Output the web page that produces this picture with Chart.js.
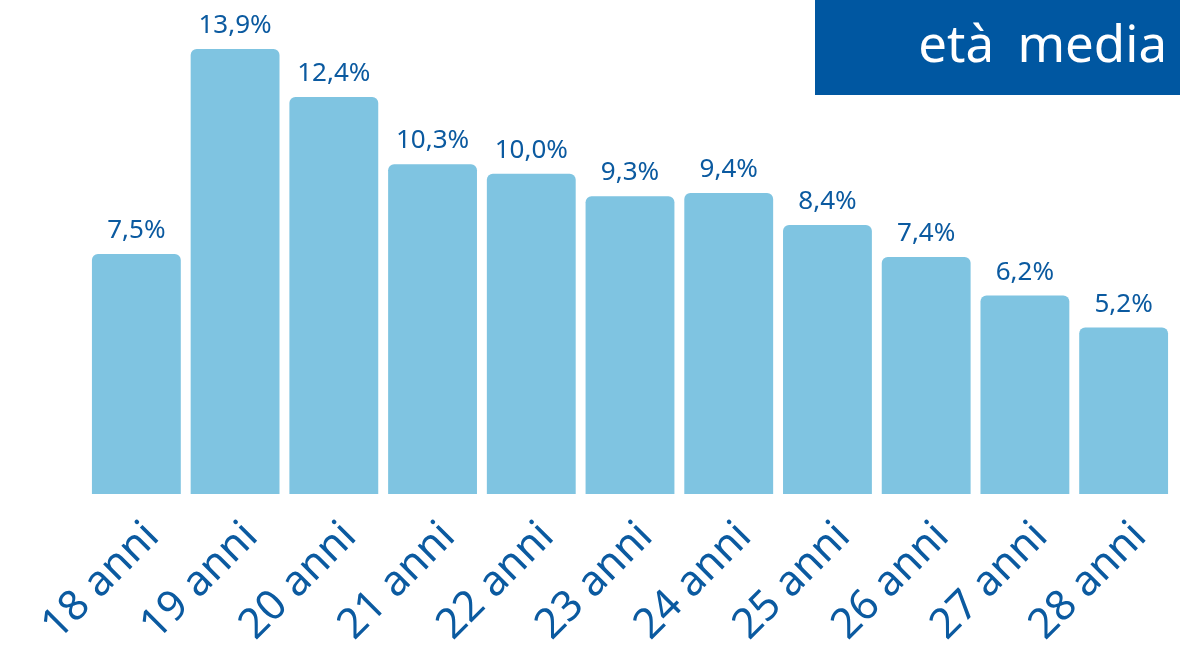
<!DOCTYPE html>
<html>
<head>
<meta charset="utf-8">
<script src="https://cdn.jsdelivr.net/npm/chart.js@4"></script>
<style>
  html, body { margin: 0; padding: 0; background: #fff; }
  #wrap { position: relative; width: 1180px; height: 651px; }
  #box {
    position: absolute; left: 815px; top: 0; width: 365px; height: 95px;
    background: #0057a1; color: #fff; font-family: "Noto Sans", sans-serif;
    font-size: 51px; text-align: right; box-sizing: border-box; padding-right: 13px;
    line-height: 84px; word-spacing: 10px;
  }
</style>
</head>
<body>
<div id="wrap">
  <canvas id="chart" width="1180" height="651"></canvas>
  <div id="box">età media</div>
</div>
<script>
const ages = ['18 anni', '19 anni', '20 anni', '21 anni', '22 anni', '23 anni', '24 anni', '25 anni', '26 anni', '27 anni', '28 anni'];
const shares = [7.5, 13.9, 12.4, 10.3, 10.0, 9.3, 9.4, 8.4, 7.4, 6.2, 5.2];

const blue = '#0b5aa0';

// etichette sopra le barre
const valueLabels = {
  id: 'valueLabels',
  afterDatasetsDraw(chart) {
    const ctx = chart.ctx;
    const meta = chart.getDatasetMeta(0);
    ctx.save();
    ctx.fillStyle = blue;
    ctx.font = '26px "Noto Sans", sans-serif';
    ctx.textAlign = 'center';
    ctx.textBaseline = 'alphabetic';
    meta.data.forEach((bar, i) => {
      const txt = shares[i].toFixed(1).replace('.', ',') + '%';
      ctx.fillText(txt, bar.x, bar.y - 16);
    });
    ctx.restore();
  }
};

new Chart(document.getElementById('chart'), {
  type: 'bar',
  data: {
    labels: ages,
    datasets: [{
      data: shares,
      backgroundColor: '#7fc4e1',
      borderRadius: { topLeft: 6, topRight: 6 },
      borderSkipped: 'bottom',
      barPercentage: 0.9,
      categoryPercentage: 1
    }]
  },
  options: {
    responsive: false,
    animation: false,
    layout: { padding: { left: 87, right: 7, top: 0, bottom: 0 } },
    plugins: { legend: { display: false }, tooltip: { enabled: false } },
    scales: {
      x: {
        grid: { display: false },
        border: { display: false },
        afterFit(scale) { scale.height = 157; },
        ticks: {
          color: blue,
          font: { family: '"Noto Sans", sans-serif', size: 42 },
          minRotation: 45,
          maxRotation: 45,
          autoSkip: false,
          labelOffset: 16,
          padding: 10
        }
      },
      y: {
        display: false,
        min: 0,
        max: 15.43
      }
    }
  },
  plugins: [valueLabels]
});
</script>
</body>
</html>
